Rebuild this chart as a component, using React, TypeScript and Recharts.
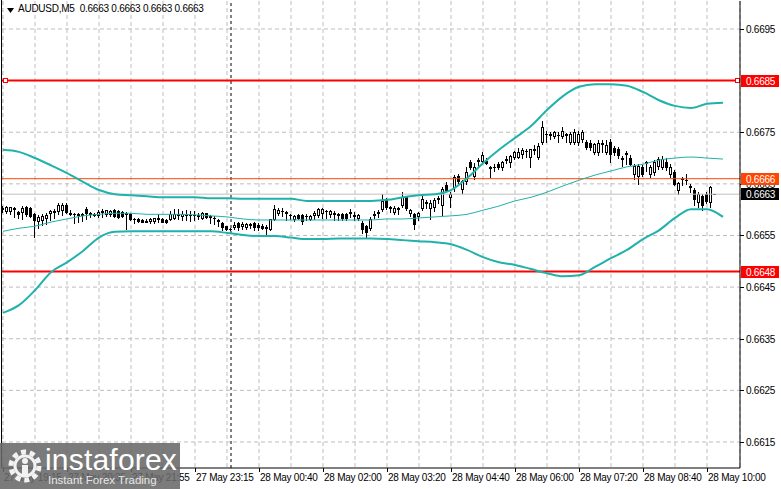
import {
  ComposedChart,
  Bar,
  Line,
  XAxis,
  YAxis,
  CartesianGrid,
  ReferenceLine,
} from "recharts";

const FONT = "'Liberation Sans', Arial, sans-serif";
const TRACK = -0.25;

// AUDUSD M5 candles, oldest first: [open, high, low, close]
const ohlc: [number, number, number, number][] = [
  [0.66604, 0.66608, 0.66596, 0.66602],
  [0.66598, 0.66608, 0.66594, 0.66606],
  [0.66598, 0.66606, 0.66592, 0.66605],
  [0.66604, 0.66606, 0.66586, 0.66602],
  [0.66596, 0.66598, 0.66584, 0.66592],
  [0.66595, 0.66607, 0.66582, 0.66604],
  [0.66606, 0.66608, 0.66588, 0.66592],
  [0.66604, 0.66606, 0.66585, 0.66588],
  [0.66592, 0.66594, 0.66548, 0.6658],
  [0.66578, 0.6659, 0.66565, 0.66586],
  [0.6658, 0.66592, 0.6657, 0.66588],
  [0.66584, 0.66594, 0.66572, 0.6659],
  [0.66594, 0.666, 0.6658, 0.66598],
  [0.66596, 0.66601, 0.66584, 0.66598],
  [0.66598, 0.66612, 0.66592, 0.6661],
  [0.666, 0.66612, 0.6659, 0.6661],
  [0.6661, 0.66612, 0.66594, 0.66596],
  [0.66594, 0.666, 0.6659, 0.66592],
  [0.66592, 0.66594, 0.66574, 0.66592],
  [0.66592, 0.66594, 0.66576, 0.6659],
  [0.6659, 0.66594, 0.66578, 0.66592],
  [0.66601, 0.66606, 0.66582, 0.66594],
  [0.66592, 0.66596, 0.66586, 0.66593],
  [0.66592, 0.66593, 0.66588, 0.6659],
  [0.6659, 0.666, 0.66586, 0.66596],
  [0.66596, 0.66601, 0.66586, 0.66597],
  [0.66592, 0.666, 0.66588, 0.66599],
  [0.66592, 0.666, 0.66588, 0.66598],
  [0.666, 0.66602, 0.66585, 0.66588],
  [0.66598, 0.666, 0.66584, 0.66586],
  [0.66596, 0.66598, 0.66586, 0.66588],
  [0.66594, 0.66596, 0.66562, 0.66592],
  [0.66591, 0.66593, 0.6658, 0.66582],
  [0.66582, 0.66584, 0.66574, 0.66582],
  [0.66582, 0.66583, 0.66577, 0.66578],
  [0.6658, 0.66582, 0.66576, 0.66577],
  [0.66579, 0.66581, 0.66576, 0.66577],
  [0.66578, 0.66584, 0.66574, 0.66582],
  [0.66578, 0.66584, 0.66574, 0.66583],
  [0.66583, 0.66591, 0.66576, 0.66582],
  [0.66582, 0.66583, 0.66576, 0.66577],
  [0.6658, 0.66582, 0.66575, 0.66576],
  [0.66581, 0.66598, 0.6658, 0.66591],
  [0.66583, 0.66601, 0.66581, 0.66592],
  [0.66592, 0.66602, 0.66582, 0.6659],
  [0.66588, 0.66598, 0.6658, 0.66591],
  [0.66591, 0.66599, 0.6658, 0.6659],
  [0.6659, 0.66598, 0.66578, 0.66589],
  [0.66589, 0.66598, 0.6658, 0.6659],
  [0.6659, 0.66593, 0.66582, 0.66588],
  [0.66584, 0.66595, 0.66582, 0.66593],
  [0.66593, 0.66594, 0.66584, 0.66586],
  [0.66586, 0.66589, 0.66574, 0.66587],
  [0.66584, 0.66588, 0.66572, 0.66583],
  [0.6658, 0.66582, 0.66568, 0.66578],
  [0.66574, 0.66576, 0.6656, 0.66566],
  [0.66568, 0.66569, 0.6656, 0.66563],
  [0.66563, 0.66564, 0.66561, 0.66563],
  [0.66567, 0.66576, 0.66562, 0.6657],
  [0.66575, 0.66576, 0.6656, 0.66566],
  [0.66568, 0.66576, 0.66563, 0.66572],
  [0.66566, 0.66574, 0.66563, 0.66572],
  [0.66572, 0.66575, 0.66564, 0.6657],
  [0.66574, 0.66576, 0.6656, 0.66566],
  [0.6657, 0.66574, 0.6656, 0.66566],
  [0.66568, 0.66572, 0.66562, 0.66565],
  [0.66566, 0.6657, 0.66552, 0.66565],
  [0.66562, 0.66582, 0.6656, 0.66581],
  [0.66582, 0.6661, 0.6658, 0.66601],
  [0.66594, 0.66604, 0.6659, 0.666],
  [0.66598, 0.66603, 0.66588, 0.66597],
  [0.66595, 0.66598, 0.6658, 0.66594],
  [0.6659, 0.66592, 0.66582, 0.6659],
  [0.66582, 0.6659, 0.66578, 0.66588],
  [0.6659, 0.66592, 0.66582, 0.66583],
  [0.6659, 0.66592, 0.66572, 0.66578],
  [0.66588, 0.66592, 0.6658, 0.66588],
  [0.66582, 0.6659, 0.6658, 0.66587],
  [0.6659, 0.66598, 0.66582, 0.66594],
  [0.6659, 0.66603, 0.66586, 0.66602],
  [0.66594, 0.66604, 0.66584, 0.66602],
  [0.66598, 0.666, 0.66584, 0.66597],
  [0.66592, 0.666, 0.66586, 0.66598],
  [0.66594, 0.66598, 0.6658, 0.66592],
  [0.66592, 0.66594, 0.6658, 0.6659],
  [0.66592, 0.66594, 0.6658, 0.66584],
  [0.66592, 0.66594, 0.6658, 0.66583],
  [0.66594, 0.66602, 0.66586, 0.66596],
  [0.66588, 0.66596, 0.6658, 0.6659],
  [0.66584, 0.66592, 0.6658, 0.6659],
  [0.66575, 0.66578, 0.66555, 0.66562],
  [0.66568, 0.6657, 0.66548, 0.66556],
  [0.66564, 0.66585, 0.6656, 0.66582],
  [0.6659, 0.66598, 0.66584, 0.66592],
  [0.66594, 0.666, 0.66586, 0.66596],
  [0.66602, 0.6663, 0.66598, 0.66616],
  [0.66618, 0.66622, 0.66602, 0.66606],
  [0.66605, 0.66608, 0.66596, 0.66603],
  [0.66596, 0.66608, 0.66592, 0.66604],
  [0.66604, 0.66606, 0.66592, 0.66602],
  [0.6661, 0.66635, 0.66606, 0.66624],
  [0.66624, 0.66626, 0.666, 0.66603],
  [0.66594, 0.66602, 0.66588, 0.666],
  [0.66592, 0.66594, 0.66562, 0.66572],
  [0.66588, 0.66596, 0.6658, 0.66594],
  [0.66604, 0.6663, 0.666, 0.6662],
  [0.66614, 0.66618, 0.66604, 0.66612],
  [0.66604, 0.66618, 0.66582, 0.66612],
  [0.66606, 0.66622, 0.66598, 0.66618],
  [0.6662, 0.66626, 0.66612, 0.66622],
  [0.6661, 0.66644, 0.6659, 0.6664],
  [0.66648, 0.66654, 0.66636, 0.66638],
  [0.66624, 0.66634, 0.66606, 0.6663],
  [0.66644, 0.66668, 0.66636, 0.66663],
  [0.66666, 0.6667, 0.66652, 0.66656],
  [0.6664, 0.66658, 0.66632, 0.66655],
  [0.66655, 0.66682, 0.6665, 0.66672],
  [0.66692, 0.66696, 0.66678, 0.66682],
  [0.66665, 0.6669, 0.6666, 0.66682],
  [0.66695, 0.667, 0.66685, 0.66697],
  [0.66694, 0.66712, 0.6669, 0.66706],
  [0.66695, 0.667, 0.66688, 0.6669],
  [0.66682, 0.66684, 0.66663, 0.6668],
  [0.66682, 0.66688, 0.66675, 0.66682],
  [0.66688, 0.66692, 0.66678, 0.66682],
  [0.66682, 0.66695, 0.66676, 0.66692],
  [0.66697, 0.66704, 0.6669, 0.66698],
  [0.66693, 0.66706, 0.66682, 0.66704],
  [0.66702, 0.66714, 0.66698, 0.66712],
  [0.66702, 0.6672, 0.667, 0.66712],
  [0.66708, 0.6672, 0.667, 0.66716],
  [0.66714, 0.66718, 0.66702, 0.66713],
  [0.66702, 0.66718, 0.66682, 0.66717],
  [0.66716, 0.66726, 0.66708, 0.66718],
  [0.66702, 0.6673, 0.66698, 0.66723],
  [0.66731, 0.66771, 0.66728, 0.6676],
  [0.66746, 0.66752, 0.66731, 0.66747],
  [0.66745, 0.6675, 0.66736, 0.66746],
  [0.66742, 0.66752, 0.66738, 0.66751],
  [0.66745, 0.6675, 0.66732, 0.66744],
  [0.66742, 0.6676, 0.66738, 0.66752],
  [0.66746, 0.66748, 0.66732, 0.66745],
  [0.66731, 0.6675, 0.66728, 0.66746],
  [0.66731, 0.66756, 0.66728, 0.6675],
  [0.66731, 0.66752, 0.66726, 0.66746],
  [0.66736, 0.66754, 0.66732, 0.6675],
  [0.66731, 0.66734, 0.66718, 0.66721],
  [0.6673, 0.66734, 0.66716, 0.66722],
  [0.66712, 0.6673, 0.66708, 0.66727],
  [0.66712, 0.66734, 0.66706, 0.6673],
  [0.66728, 0.66734, 0.66712, 0.6673],
  [0.66712, 0.66734, 0.66708, 0.66726],
  [0.66731, 0.66736, 0.66692, 0.66707],
  [0.6672, 0.66724, 0.66706, 0.66712],
  [0.66718, 0.66722, 0.667, 0.66706],
  [0.667, 0.66704, 0.66684, 0.66698],
  [0.6671, 0.66714, 0.66688, 0.66708],
  [0.667, 0.66706, 0.66686, 0.66688],
  [0.66669, 0.66688, 0.66659, 0.66684],
  [0.66665, 0.66688, 0.66649, 0.66684],
  [0.66682, 0.66686, 0.66666, 0.66669],
  [0.6669, 0.66694, 0.66675, 0.66692],
  [0.66669, 0.66686, 0.66664, 0.66682],
  [0.66672, 0.66696, 0.66668, 0.66692],
  [0.66684, 0.66702, 0.66678, 0.66698],
  [0.66682, 0.66703, 0.66678, 0.66698],
  [0.66692, 0.667, 0.66676, 0.66682],
  [0.66669, 0.66688, 0.66664, 0.66682],
  [0.66672, 0.66676, 0.66648, 0.66649],
  [0.66639, 0.66654, 0.6663, 0.66652],
  [0.6666, 0.66664, 0.66648, 0.66659],
  [0.66657, 0.66669, 0.6665, 0.66658],
  [0.66645, 0.6665, 0.66634, 0.66643],
  [0.66639, 0.66642, 0.6661, 0.6662],
  [0.66614, 0.66634, 0.66606, 0.6663],
  [0.66626, 0.6663, 0.666, 0.6661],
  [0.6663, 0.66634, 0.66612, 0.66616],
  [0.66614, 0.66645, 0.66606, 0.66643],
  [0.6663, 0.6663, 0.6663, 0.6663],
];

// Bollinger bands (20, 2) read every 4th bar
const bandAt = [
  0, 4, 8, 12, 16, 20, 24, 28, 32, 36, 40, 44, 48, 52, 56, 60, 64, 68, 72, 76, 80, 84, 88,
  92, 96, 100, 104, 108, 112, 116, 120, 124, 128, 132, 136, 140, 144, 148, 152, 156, 160,
  164, 168, 172, 176, 180,
];
const bbUpper = [
  0.66716, 0.66712, 0.667, 0.66686, 0.66671, 0.66654, 0.66638, 0.6663, 0.66628, 0.66626,
  0.66624, 0.66624, 0.66624, 0.66622, 0.66622, 0.66621, 0.66621, 0.66621, 0.66621, 0.66617,
  0.66617, 0.66617, 0.66617, 0.66617, 0.66619, 0.66624, 0.66628, 0.6663, 0.66638, 0.66661,
  0.6669, 0.66716, 0.66739, 0.66762, 0.66793, 0.6682, 0.66838, 0.66843, 0.66843, 0.6684,
  0.66828, 0.66812, 0.66801, 0.66797, 0.66805, 0.66807,
];
const bbMiddle = [
  0.66558, 0.66564, 0.66568, 0.66576, 0.66582, 0.66588, 0.66591, 0.66593, 0.66593, 0.66591,
  0.66591, 0.66591, 0.6659, 0.66588, 0.66586, 0.66582, 0.6658, 0.6658, 0.6658, 0.6658,
  0.6658, 0.6658, 0.6658, 0.6658, 0.66582, 0.66582, 0.66584, 0.66586, 0.66588, 0.66591,
  0.66599, 0.66607, 0.66617, 0.66624, 0.66634, 0.66646, 0.66657, 0.66667, 0.66675, 0.66683,
  0.66688, 0.66696, 0.667, 0.66702, 0.667, 0.66698,
];
const bbLower = [
  0.664, 0.66415, 0.66444, 0.66479, 0.66498, 0.6652, 0.66546, 0.66557, 0.66558, 0.66558,
  0.66558, 0.66558, 0.66558, 0.66558, 0.66555, 0.66551, 0.66549, 0.66549, 0.66546, 0.66543,
  0.66543, 0.66544, 0.66544, 0.66544, 0.66543, 0.66541, 0.66539, 0.66537, 0.66533, 0.66522,
  0.66508, 0.66498, 0.66493, 0.66485, 0.66477, 0.66471, 0.66473, 0.66489, 0.66506, 0.66522,
  0.66543, 0.6656, 0.66584, 0.66601, 0.66601, 0.66586,
];

const xTickAt = [0, 16, 32, 48, 64, 80, 96, 112, 128, 144, 160, 176];
const xTickLabels = [
  "27 May 19:15",
  "27 May 20:35",
  "27 May 21:55",
  "27 May 23:15",
  "28 May 00:40",
  "28 May 02:00",
  "28 May 03:20",
  "28 May 04:40",
  "28 May 06:00",
  "28 May 07:20",
  "28 May 08:40",
  "28 May 10:00",
];
const gridAt = [
  0, 8, 16, 24, 32, 40, 48, 56, 64, 72, 80, 88, 96, 104, 112, 120, 128, 136, 144, 152, 160,
  168, 176,
];
const daySeparatorAt = 57;

const yTicks = [0.6615, 0.6625, 0.6635, 0.6645, 0.6655, 0.6665, 0.6675, 0.6685, 0.6695];

// price levels and their tags on the price scale
const RESISTANCE = 0.6685;
const SUPPORT = 0.6648;
const ALERT = 0.6666;
const BID = 0.6663;
const tagValues = [BID, ALERT, SUPPORT, RESISTANCE];
const tagColors = ["#000000", "#FF4500", "#FF0000", "#FF0000"];

const BAND = "#20B2AA";
const Y_DOMAIN: [number, number] = [0.660996, 0.670042];

const data = Array.from({ length: 181 }, (_, i) => {
  const k = ohlc[i];
  const b = bandAt.indexOf(i);
  return {
    i,
    o: k ? k[0] : null,
    h: k ? k[1] : null,
    l: k ? k[2] : null,
    c: k ? k[3] : null,
    up: b >= 0 ? bbUpper[b] : null,
    mid: b >= 0 ? bbMiddle[b] : null,
    low: b >= 0 ? bbLower[b] : null,
  };
});

function Candle(props: any) {
  const { x, y, width, height, payload } = props;
  if (!payload || payload.h == null) return null;
  const { o, h, l, c } = payload;
  const yTop = Math.min(y, y + height);
  const hgt = Math.abs(height);
  const span = h - l;
  const py = (p: number) => (span > 0 ? yTop + ((h - p) / span) * hgt : yTop);
  const cx = Math.floor(x + width / 2);
  const top = Math.round(py(Math.max(o, c)));
  const bot = Math.round(py(Math.min(o, c)));
  const yH = Math.round(py(h));
  const yL = Math.round(py(l));
  return (
    <g>
      {yL > yH && <line x1={cx + 0.5} x2={cx + 0.5} y1={yH} y2={yL + 1} stroke="#000" strokeWidth={1} />}
      {bot - top < 1 ? (
        <line x1={cx - 1} x2={cx + 2} y1={top + 0.5} y2={top + 0.5} stroke="#000" strokeWidth={1} />
      ) : c > o ? (
        <rect x={cx - 0.5} y={top + 0.5} width={2} height={bot - top} fill="#fff" stroke="#000" strokeWidth={1} />
      ) : (
        <rect x={cx - 1} y={top} width={3} height={bot - top + 1} fill="#000" />
      )}
    </g>
  );
}

// small hollow squares at both ends of the resistance line
function EndMarkers(props: any) {
  const vb = props.viewBox;
  if (!vb) return null;
  const cy = Math.round(vb.y);
  return (
    <g>
      <rect x={vb.x + 1.5} y={cy - 2.5} width={4} height={4} fill="#fff" stroke="#FF0000" />
      <rect x={vb.x + vb.width - 4.5} y={cy - 2.5} width={4} height={4} fill="#fff" stroke="#FF0000" />
    </g>
  );
}

// price scale: plain labels for the grid ticks, coloured tags for the levels (drawn last)
function PriceTick(props: any) {
  const { x, y, payload } = props;
  const v = payload.value;
  const cy = Math.round(y);
  const k = tagValues.indexOf(v);
  if (k >= 0) {
    return (
      <g>
        <rect x={x + 1} y={cy - 6} width={38} height={12} fill={tagColors[k]} />
        <text x={x + 6} y={cy + 4} fill="#fff" fontSize={10} letterSpacing={TRACK} fontFamily={FONT}>
          {v.toFixed(4)}
        </text>
      </g>
    );
  }
  return (
    <g>
      <line x1={x} x2={x + 4} y1={cy + 0.5} y2={cy + 0.5} stroke="#000" />
      <text x={x + 6} y={cy + 4} fill="#000" fontSize={10} letterSpacing={TRACK} fontFamily={FONT}>
        {v.toFixed(4)}
      </text>
    </g>
  );
}

function TimeTick(props: any) {
  const { x, y, payload } = props;
  const k = xTickAt.indexOf(payload.value);
  if (k < 0) return null;
  const px = Math.round(x) + 0.5;
  return (
    <g>
      <line x1={px} x2={px} y1={y} y2={y + 4} stroke="#000" />
      <text x={px + 0.5} y={y + 13} fontSize={10} letterSpacing={TRACK} fontFamily={FONT} fill="#000">
        {xTickLabels[k]}
      </text>
    </g>
  );
}

function Logo() {
  return (
    <div
      style={{
        position: "absolute",
        left: 0,
        top: 443,
        width: 180,
        height: 46,
        background: "rgba(105,105,105,0.88)",
        color: "#fff",
        fontFamily: FONT,
      }}
    >
      <svg width={36} height={36} style={{ position: "absolute", left: 7, top: 5 }}>
        <circle cx={18} cy={18} r={14} fill="none" stroke="#f2f2f2" strokeWidth={5} strokeDasharray="5 3.8" />
        <circle cx={18} cy={18} r={10} fill="none" stroke="#f2f2f2" strokeWidth={3} />
        <circle cx={18} cy={13} r={3} fill="#f2f2f2" />
        <rect x={15} y={17} width={6} height={12} fill="#f2f2f2" />
      </svg>
      <div style={{ position: "absolute", left: 45, top: 1, fontSize: 30, lineHeight: "32px", letterSpacing: 0.2 }}>
        instaforex
      </div>
      <div style={{ position: "absolute", left: 48, top: 31, fontSize: 11.5, lineHeight: "13px", color: "#e6e6e6" }}>
        Instant Forex Trading
      </div>
    </div>
  );
}

export default function App() {
  return (
    <div style={{ position: "absolute", left: 0, top: 0, width: 781, height: 489, background: "#fff" }}>
      <ComposedChart
        width={781}
        height={489}
        data={data}
        margin={{ top: 1, right: 0, bottom: 0, left: 2 }}
      >
        <CartesianGrid stroke="#BDBDBD" strokeDasharray="4 3" horizontalValues={yTicks} />
        <XAxis
          type="number"
          dataKey="i"
          domain={[-0.25, 184.25]}
          ticks={gridAt}
          interval={0}
          allowDataOverflow
          height={21}
          tickSize={0}
          tickMargin={0}
          tickLine={false}
          axisLine={{ stroke: "#000" }}
          tick={<TimeTick />}
        />
        <YAxis
          orientation="right"
          type="number"
          domain={Y_DOMAIN}
          ticks={[...yTicks, ...tagValues]}
          interval={0}
          allowDataOverflow
          width={41}
          tickSize={0}
          tickMargin={0}
          tickLine={false}
          axisLine={{ stroke: "#000" }}
          tick={<PriceTick />}
        />
        <ReferenceLine x={daySeparatorAt} stroke="#000" strokeDasharray="3 3" />
        <ReferenceLine y={BID} stroke="#C0C0C0" />
        <ReferenceLine y={ALERT} stroke="#FF4500" />
        <ReferenceLine y={RESISTANCE} stroke="#FF0000" strokeWidth={2} label={<EndMarkers />} />
        <ReferenceLine y={SUPPORT} stroke="#FF0000" strokeWidth={2} />
        <Line type="monotone" dataKey="up" stroke={BAND} strokeWidth={2} dot={false} connectNulls isAnimationActive={false} />
        <Line type="monotone" dataKey="mid" stroke={BAND} strokeWidth={1} dot={false} connectNulls isAnimationActive={false} />
        <Line type="monotone" dataKey="low" stroke={BAND} strokeWidth={2} dot={false} connectNulls isAnimationActive={false} />
        <Bar
          dataKey={(d: any) => (d.h == null ? null : [d.l, d.h])}
          barSize={3}
          shape={<Candle />}
          isAnimationActive={false}
        />
      </ComposedChart>
      <div style={{ position: "absolute", left: 1, top: 0, width: 1, height: 468, background: "#000" }} />
      <div style={{ position: "absolute", left: 6, top: 3, fontFamily: FONT, fontSize: 10, letterSpacing: TRACK, color: "#000", whiteSpace: "pre" }}>
        <svg width={8} height={6} style={{ position: "absolute", left: 1, top: 5 }}>
          <polygon points="0,0 7,0 3.5,5" fill="#000" />
        </svg>
        <span style={{ position: "absolute", left: 12, top: 0 }}>AUDUSD,M5  0.6663 0.6663 0.6663 0.6663</span>
      </div>
      <Logo />
    </div>
  );
}
